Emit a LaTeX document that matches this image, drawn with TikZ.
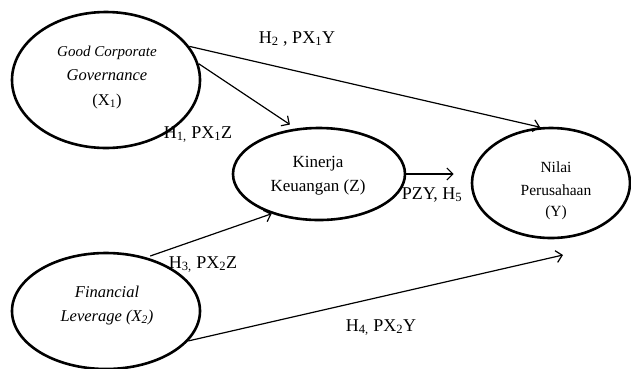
\documentclass[tikz,border=0pt]{standalone}
\usepackage{fontspec}
\setmainfont{Liberation Serif}
\usetikzlibrary{arrows.meta,shapes.geometric}
\begin{document}
\begin{tikzpicture}[x=1pt,y=-1pt,
  var/.style={draw,ellipse,line width=2.6pt,inner sep=0pt},
  conn/.style={line width=1.2pt,-{Straight Barb[length=6pt,width=12pt,line width=1.2pt]}},
  lab/.style={font=\fontsize{18}{20}\selectfont,inner sep=0pt,anchor=base},
  txt/.style={inner sep=0pt,anchor=base}]
\useasboundingbox (0,0) rectangle (631,368);
% ellipses
\node[var,minimum width=188pt,minimum height=136pt] (X1) at (106,80) {};
\node[var,minimum width=172pt,minimum height=92pt] (Z) at (319,174) {};
\node[var,minimum width=158pt,minimum height=110pt] (Y) at (551,183) {};
\node[var,minimum width=188pt,minimum height=116pt] (X2) at (106,311) {};
% ellipse texts
\node[txt,font=\itshape\fontsize{15}{18}\selectfont] (X1a) at (107,56) {Good Corporate};
\node[txt,font=\itshape\fontsize{16.5}{19}\selectfont] (X1b) at (107,80) {Governance};
\node[txt,font=\fontsize{16.5}{19}\selectfont] (X1c) at (107,105) {(X\textsubscript{1})};
\node[txt,font=\fontsize{17}{20}\selectfont] (Za) at (318,167) {Kinerja};
\node[txt,font=\fontsize{17}{20}\selectfont] (Zb) at (318,191) {Keuangan (Z)};
\node[txt,font=\fontsize{15.5}{18}\selectfont] (Ya) at (556,172) {Nilai};
\node[txt,font=\fontsize{15.5}{18}\selectfont] (Yb) at (556,195) {Perusahaan};
\node[txt,font=\fontsize{15.5}{18}\selectfont] (Yc) at (556,216) {(Y)};
\node[txt,font=\itshape\fontsize{16.5}{19}\selectfont] (X2a) at (107,297) {Financial};
\node[txt,font=\itshape\fontsize{16.5}{19}\selectfont] (X2b) at (107,321) {Leverage (X\textsubscript{2})};
% connectors
\coordinate (Yin) at (563,255);
\draw[conn] (X1.22) -- (Y.101);
\draw[conn,shorten >=7pt] (X1.10) -- (Z.117);
\draw[conn,shorten >=17pt] (Z.east) -- (Y.west |- Z.east);
\draw[conn,shorten <=4pt] (X2.53) -- (Z.220);
\draw[conn] (X2.-20) -- (Yin);
% labels
\node[lab] (L2) at (297,43) {H\textsubscript{2} , PX\textsubscript{1}Y};
\node[lab] (L1) at (198,138) {H\textsubscript{1,} PX\textsubscript{1}Z};
\node[lab] (L5) at (432,199) {PZY, H\textsubscript{5}};
\node[lab] (L3) at (203,268) {H\textsubscript{3,} PX\textsubscript{2}Z};
\node[lab] (L4) at (381,331) {H\textsubscript{4,} PX\textsubscript{2}Y};
\end{tikzpicture}
\end{document}
